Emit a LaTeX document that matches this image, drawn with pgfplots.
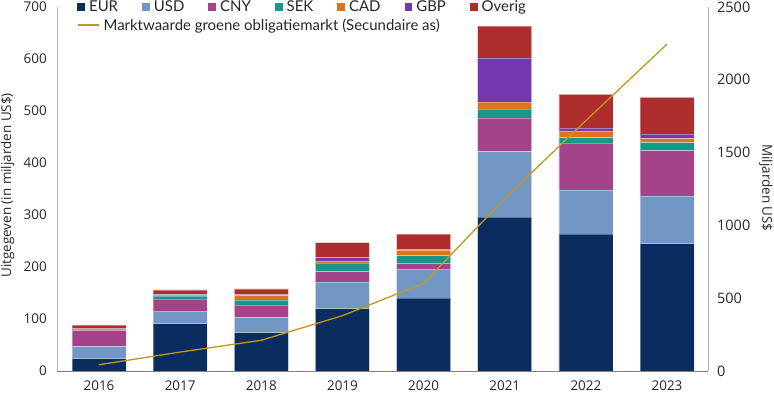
\documentclass[border=0pt]{standalone}
\usepackage{fontspec}
\setmainfont{Lato}
\newfontfamily\osans{Open Sans}
\usepackage{pgfplots}
\pgfplotsset{compat=1.18}
\definecolor{cEUR}{HTML}{0A2C5E}
\definecolor{cUSD}{HTML}{7297C4}
\definecolor{cCNY}{HTML}{A4428A}
\definecolor{cSEK}{HTML}{169888}
\definecolor{cCAD}{HTML}{E2721A}
\definecolor{cGBP}{HTML}{7537AE}
\definecolor{cOV}{HTML}{AE2E2E}
\definecolor{cLine}{HTML}{C4961A}
\definecolor{cTxt}{HTML}{262626}
\pgfplotsset{
  sq/.style={legend image code/.code={\fill[##1,draw=none] (0bp,-3.9bp) rectangle (7.8bp,3.9bp);}},
  lg/.style={legend image code/.code={\draw[##1] (0bp,0bp) -- (21bp,0bp);}},
  common/.style={
    scale only axis, width=651bp, height=364bp,
    xmin=-0.518, xmax=7.505,
    /pgf/number format/assume math mode=true,
    /pgf/number format/1000 sep={},
    major tick length=0pt, tick style={draw=none},
    tick label style={font=\osans\fontsize{13.5}{16}\selectfont, text=cTxt},
    label style={font=\osans\fontsize{13.5}{16}\selectfont, text=cTxt},
  },
  lgstyle/.style={draw=none, fill=none, inner sep=0pt, outer sep=0pt,
    font=\fontsize{15}{18}\selectfont, text=cTxt,
    nodes={inner sep=0pt},
    /tikz/every odd column/.append style={column sep=4bp},
    /tikz/every even column/.append style={column sep=24bp}},
}
\begin{document}
\begin{tikzpicture}
\begin{axis}[common,
  ybar stacked, bar width=54bp,
  ymin=0, ymax=700, ytick={0,100,...,700},
  xtick={0,...,7}, xticklabels={2016,2017,2018,2019,2020,2021,2022,2023},
  axis x line*=bottom, axis y line*=left,
  x axis line style={draw=black!50, -},
  y axis line style={draw=black!27, -},
  yticklabel style={anchor=east, inner sep=0pt, xshift=-10bp},
  xticklabel style={anchor=north, inner sep=0pt, yshift=-10bp},
  ylabel={Uitgegeven (in miljarden US\$)},
  ylabel style={at={(axis description cs:-0.076,0.51)}, anchor=center},
  legend columns=7,
  legend style={lgstyle, at={(axis description cs:0.0312,1.0)}, anchor=west},
  every axis plot/.append style={draw=white, draw opacity=0.35, line width=0.5bp},
]
\addplot[fill=cEUR, sq] coordinates {(0,24) (1,91) (2,74) (3,120) (4,140) (5,296) (6,263) (7,245)};
\addlegendentry{EUR}
\addplot[fill=cUSD, sq] coordinates {(0,23) (1,24) (2,29) (3,51) (4,56) (5,126) (6,85) (7,92)};
\addlegendentry{USD}
\addplot[fill=cCNY, sq] coordinates {(0,31) (1,23) (2,24) (3,20) (4,11) (5,65) (6,90) (7,87)};
\addlegendentry{CNY}
\addplot[fill=cSEK, sq] coordinates {(0,3) (1,6) (2,10) (3,17) (4,15) (5,17) (6,11) (7,15)};
\addlegendentry{SEK}
\addplot[fill=cCAD, sq] coordinates {(0,1) (1,2) (2,8) (3,4) (4,10) (5,13) (6,13) (7,8)};
\addlegendentry{CAD}
\addplot[fill=cGBP, sq] coordinates {(0,1) (1,1) (2,2) (3,6) (4,2) (5,85) (6,5) (7,9)};
\addlegendentry{GBP}
\addplot[fill=cOV, sq] coordinates {(0,5) (1,9) (2,11) (3,29) (4,29) (5,61) (6,65) (7,70)};
\addlegendentry{Overig}
\end{axis}
\begin{axis}[common,
  ymin=0, ymax=2500, ytick={0,500,...,2500},
  axis x line=none, axis y line*=right,
  y axis line style={draw=black!27, -},
  yticklabel style={anchor=west, inner sep=0pt, xshift=9bp, font=\osans\fontsize{14.5}{17}\selectfont},
  ylabel={Miljarden US\$},
  ylabel style={rotate=180, at={(axis description cs:1.089,0.503)}, anchor=center},
  legend style={lgstyle, at={(axis description cs:0.0312,0.9505)}, anchor=west},
]
\addplot[color=cLine, line width=1.3bp, mark=none, lg] coordinates {(0,43) (1,130) (2,211) (3,380) (4,602) (5,1185) (6,1720) (7,2245)};
\addlegendentry{Marktwaarde groene obligatiemarkt (Secundaire as)}
\end{axis}
\pgfresetboundingbox
\useasboundingbox (-57bp,-27bp) rectangle (717bp,371bp);
\end{tikzpicture}
\end{document}
